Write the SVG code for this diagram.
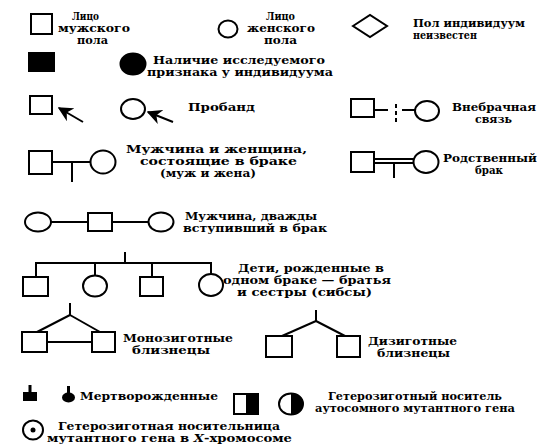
<svg xmlns="http://www.w3.org/2000/svg" width="537" height="446" viewBox="0 0 537 446">
<style>
.s{fill:#fff;stroke:#000;stroke-width:2}
.f{fill:#000;stroke:#000;stroke-width:2}
.l{fill:none;stroke:#000;stroke-width:2}
.t{font-family:"DejaVu Serif","Liberation Serif",serif;font-weight:bold;font-size:10.5px;fill:#000}
</style>
<defs>
<marker id="ah" viewBox="0 0 10 10" refX="9" refY="5" markerWidth="7.5" markerHeight="7.5" orient="auto" markerUnits="strokeWidth">
<path d="M0,0 L10,5 L0,10 L3,5 z" fill="#000"/>
</marker>
</defs>
<rect width="537" height="446" fill="#fff"/>

<g id="connectors">
<line class="l" x1="83" y1="122" x2="59" y2="108" marker-end="url(#ah)"/>
<line class="l" x1="173" y1="122" x2="148" y2="112" marker-end="url(#ah)"/>
<line class="l" x1="52" y1="162" x2="91" y2="162"/>
<line class="l" x1="72" y1="162" x2="72" y2="182"/>
<line class="l" x1="374" y1="110" x2="388" y2="110"/>
<line class="l" x1="396" y1="104" x2="396" y2="123" stroke-dasharray="4,3"/>
<line class="l" x1="402" y1="110" x2="415" y2="110"/>
<line class="l" x1="374" y1="159" x2="414" y2="159" stroke-width="1.6"/>
<line class="l" x1="374" y1="163" x2="414" y2="163" stroke-width="1.6"/>
<line class="l" x1="394" y1="163" x2="394" y2="178"/>
<line class="l" x1="51" y1="222" x2="88" y2="222"/>
<line class="l" x1="112" y1="222" x2="149" y2="222"/>
<line class="l" x1="125" y1="252" x2="125" y2="263"/>
<line class="l" x1="35" y1="263" x2="212" y2="263"/>
<line class="l" x1="36" y1="263" x2="36" y2="277"/>
<line class="l" x1="95" y1="263" x2="95" y2="275"/>
<line class="l" x1="152" y1="263" x2="152" y2="277"/>
<line class="l" x1="211" y1="263" x2="211" y2="274"/>
<line class="l" x1="70" y1="303" x2="70" y2="315"/>
<line class="l" x1="70" y1="315" x2="37" y2="332"/>
<line class="l" x1="70" y1="315" x2="100" y2="332"/>
<line class="l" x1="47" y1="342" x2="92" y2="342"/>
<line class="l" x1="316" y1="310" x2="316" y2="321"/>
<line class="l" x1="316" y1="321" x2="282" y2="336"/>
<line class="l" x1="316" y1="321" x2="345" y2="336"/>
</g>

<g id="male"><rect class="s" x="31" y="14" width="21" height="20"/></g>
<g id="female"><ellipse class="s" cx="228" cy="29" rx="9.5" ry="8.5"/></g>
<g id="unknown"><polygon class="s" points="353,26 370,15 387,26 370,37"/></g>
<g id="affected-male"><rect class="f" x="29" y="53" width="25" height="18"/></g>
<g id="affected-female"><ellipse class="f" cx="133" cy="64" rx="12.5" ry="10.5"/></g>
<g id="proband-male"><rect class="s" x="30" y="96" width="22" height="18"/></g>
<g id="proband-female"><ellipse class="s" cx="133" cy="109" rx="12" ry="10"/></g>
<g id="illegit-male"><rect class="s" x="351" y="99" width="23" height="18"/></g>
<g id="illegit-female"><ellipse class="s" cx="427" cy="111" rx="12" ry="10"/></g>
<g id="married-male"><rect class="s" x="29" y="151" width="23" height="23"/></g>
<g id="married-female"><ellipse class="s" cx="103" cy="162" rx="12.5" ry="11.5"/></g>
<g id="consang-male"><rect class="s" x="351" y="152" width="23" height="20"/></g>
<g id="consang-female"><ellipse class="s" cx="426" cy="162" rx="12.5" ry="11"/></g>
<g id="twice-wife1"><ellipse class="s" cx="38" cy="222" rx="13" ry="9.5"/></g>
<g id="twice-male"><rect class="s" x="88" y="213" width="24" height="18"/></g>
<g id="twice-wife2"><ellipse class="s" cx="161" cy="222" rx="12.5" ry="9.5"/></g>
<g id="sib1"><rect class="s" x="23" y="277" width="25" height="19"/></g>
<g id="sib2"><ellipse class="s" cx="95" cy="286" rx="12" ry="10.5"/></g>
<g id="sib3"><rect class="s" x="140" y="277" width="23" height="19"/></g>
<g id="sib4"><ellipse class="s" cx="211" cy="285" rx="12" ry="11"/></g>
<g id="mz1"><rect class="s" x="22" y="332" width="25" height="20"/></g>
<g id="mz2"><rect class="s" x="92" y="332" width="23" height="20"/></g>
<g id="dz1"><rect class="s" x="266" y="336" width="26" height="21"/></g>
<g id="dz2"><rect class="s" x="337" y="336" width="23" height="21"/></g>
<g id="stillborn-male"><rect x="23" y="392" width="14" height="9" fill="#000"/><rect x="28.5" y="385" width="3" height="8" fill="#000"/></g>
<g id="stillborn-female"><ellipse cx="68.5" cy="397.5" rx="6.5" ry="5" fill="#000"/><rect x="67" y="386" width="3" height="8" fill="#000"/></g>
<g id="het-auto-male"><rect class="s" x="234" y="394" width="24" height="20"/><rect x="246" y="394" width="12" height="20" fill="#000"/></g>
<g id="het-auto-female"><ellipse class="s" cx="291" cy="404" rx="12" ry="10.5"/><path d="M291,393.5 A12,10.5 0 0 1 291,414.5 z" fill="#000"/></g>
<g id="het-x-female"><ellipse class="s" cx="33" cy="430" rx="10" ry="9.5"/><circle cx="33" cy="430" r="2.5" fill="#000"/></g>

<g id="labels" class="t">
<text x="72" y="20" textLength="27" lengthAdjust="spacingAndGlyphs">Лицо</text>
<text x="58" y="32" textLength="72" lengthAdjust="spacingAndGlyphs">мужского</text>
<text x="77" y="44" textLength="31" lengthAdjust="spacingAndGlyphs">пола</text>
<text x="266" y="20" textLength="29" lengthAdjust="spacingAndGlyphs">Лицо</text>
<text x="247" y="32" textLength="68" lengthAdjust="spacingAndGlyphs">женского</text>
<text x="264" y="44" textLength="33" lengthAdjust="spacingAndGlyphs">пола</text>
<text x="413" y="27" textLength="112" lengthAdjust="spacingAndGlyphs">Пол индивидуум</text>
<text x="413" y="39" textLength="64" lengthAdjust="spacingAndGlyphs">неизвестен</text>
<text x="153" y="64" textLength="172" lengthAdjust="spacingAndGlyphs">Наличие исследуемого</text>
<text x="147" y="76" textLength="186" lengthAdjust="spacingAndGlyphs">признака у индивидуума</text>
<text x="188" y="111" textLength="67" lengthAdjust="spacingAndGlyphs">Пробанд</text>
<text x="452" y="111" textLength="84" lengthAdjust="spacingAndGlyphs">Внебрачная</text>
<text x="475" y="123" textLength="37" lengthAdjust="spacingAndGlyphs">связь</text>
<text x="126" y="153" textLength="181" lengthAdjust="spacingAndGlyphs">Мужчина и женщина,</text>
<text x="140" y="165" textLength="157" lengthAdjust="spacingAndGlyphs">состоящие в браке</text>
<text x="160" y="177" textLength="96" lengthAdjust="spacingAndGlyphs">(муж и жена)</text>
<text x="443" y="162" textLength="94" lengthAdjust="spacingAndGlyphs">Родственный</text>
<text x="475" y="174" textLength="28" lengthAdjust="spacingAndGlyphs">брак</text>
<text x="185" y="220" textLength="132" lengthAdjust="spacingAndGlyphs">Мужчина, дважды</text>
<text x="183" y="232" textLength="144" lengthAdjust="spacingAndGlyphs">вступивший в брак</text>
<text x="238" y="272" textLength="146" lengthAdjust="spacingAndGlyphs">Дети, рожденные в</text>
<text x="223" y="284" textLength="168" lengthAdjust="spacingAndGlyphs">одном браке — братья</text>
<text x="237" y="296" textLength="135" lengthAdjust="spacingAndGlyphs">и сестры (сибсы)</text>
<text x="123" y="342" textLength="110" lengthAdjust="spacingAndGlyphs">Монозиготные</text>
<text x="132" y="354" textLength="78" lengthAdjust="spacingAndGlyphs">близнецы</text>
<text x="368" y="345" textLength="89" lengthAdjust="spacingAndGlyphs">Дизиготные</text>
<text x="377" y="357" textLength="73" lengthAdjust="spacingAndGlyphs">близнецы</text>
<text x="80" y="400" textLength="138" lengthAdjust="spacingAndGlyphs">Мертворожденные</text>
<text x="328" y="400" textLength="174" lengthAdjust="spacingAndGlyphs">Гетерозиготный носитель</text>
<text x="315" y="412" textLength="200" lengthAdjust="spacingAndGlyphs">аутосомного мутантного гена</text>
<text x="58" y="430" textLength="222" lengthAdjust="spacingAndGlyphs">Гетерозиготная носительница</text>
<text x="47" y="442" textLength="245" lengthAdjust="spacingAndGlyphs">мутантного гена в <tspan font-style="italic">X</tspan>-хромосоме</text>
</g>
</svg>
